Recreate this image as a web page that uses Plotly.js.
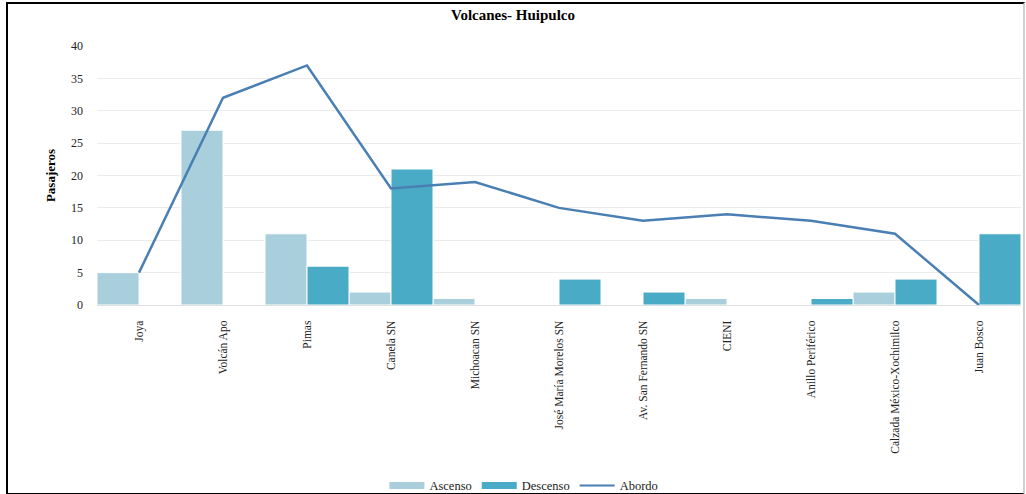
<!DOCTYPE html>
<html>
<head>
<meta charset="utf-8">
<script src="https://cdn.plot.ly/plotly-3.0.1.min.js"></script>
<style>
html,body{margin:0;padding:0;background:#fff;}
#wrap{position:relative;width:1026px;height:494px;}
#chart{position:absolute;left:0;top:0;width:1026px;height:494px;}
#frame{position:absolute;left:6px;top:2px;width:1015px;height:489px;border-left:2px solid #000;border-top:2px solid #000;border-bottom:2px solid #000;border-right:2px solid #d0d0d0;pointer-events:none;}
</style>
</head>
<body>
<div id="wrap"><div id="chart"></div><div id="frame"></div></div>
<script>
const paradas = ["Joya", "Volcán Apo", "Pimas", "Canela SN", "Michoacan SN", "José María Morelos SN", "Av. San Fernando SN", "CIENI", "Anillo Periférico", "Calzada México-Xochimilco", "Juan Bosco"];
const ascenso = [5, 27, 11, 2, 1, 0, 0, 1, 0, 2, 0];
const descenso = [0, 0, 6, 21, 0, 4, 2, 0, 1, 4, 11];
const abordo = [5, 32, 37, 18, 19, 15, 13, 14, 13, 11, 0];
const yTicks = [0, 5, 10, 15, 20, 25, 30, 35, 40];

const serif = "'Liberation Serif', 'Times New Roman', serif";
const cAsc = '#a9cfdc', cDesc = '#4aabc6', cAbordo = '#4a7fb4';

const traces = [
  {type: 'bar', name: 'Ascenso', x: paradas, y: ascenso, showlegend: false,
   marker: {color: cAsc, line: {color: '#ffffff', width: 1}}},
  {type: 'bar', name: 'Descenso', x: paradas, y: descenso, showlegend: false,
   marker: {color: cDesc, line: {color: '#ffffff', width: 1}}},
  {type: 'scatter', mode: 'lines', name: 'Abordo', x: paradas, y: abordo, showlegend: false,
   line: {color: cAbordo, width: 2.5}},
  // legend entries (wide swatches like the reference)
  {type: 'scatter', mode: 'lines', name: 'Ascenso', x: [null], y: [null], line: {color: cAsc, width: 7}},
  {type: 'scatter', mode: 'lines', name: 'Descenso', x: [null], y: [null], line: {color: cDesc, width: 7}},
  {type: 'scatter', mode: 'lines', name: 'Abordo', x: [null], y: [null], line: {color: cAbordo, width: 2}}
];

const layout = {
  width: 1026, height: 494,
  margin: {l: 97, r: 5, t: 46, b: 189, autoexpand: false},
  paper_bgcolor: '#ffffff', plot_bgcolor: '#ffffff',
  barmode: 'group', bargap: 0, bargroupgap: 0,
  font: {family: serif, size: 12, color: '#222'},
  title: {text: '<b>Volcanes- Huipulco</b>', font: {family: serif, size: 15, color: '#000'},
          x: 0.5, xanchor: 'center', y: 0.98, yanchor: 'top'},
  xaxis: {type: 'category', tickangle: -90, showgrid: false, zeroline: false, automargin: false,
          showline: true, linecolor: '#e0e0e0', linewidth: 1,
          ticks: '', ticklabelstandoff: 10,
          tickfont: {family: serif, size: 11.5, color: '#222'}},
  yaxis: {range: [0, 40], tickvals: yTicks, showgrid: true, gridcolor: '#ebebeb', gridwidth: 1,
          automargin: false, zeroline: false, showline: false, ticks: '', ticklabelstandoff: 13,
          tickfont: {family: serif, size: 12, color: '#222'},
          title: {text: '<b>Pasajeros</b>', font: {family: serif, size: 13, color: '#000'}, standoff: 12}},
  showlegend: true,
  legend: {orientation: 'h', x: 0.462, xanchor: 'center', y: -0.64, yanchor: 'top',
           itemwidth: 35, tracegroupgap: 0,
           font: {family: serif, size: 12.5, color: '#222'}, traceorder: 'normal'}
};

Plotly.newPlot('chart', traces, layout, {displayModeBar: false, staticPlot: true});
</script>
</body>
</html>
